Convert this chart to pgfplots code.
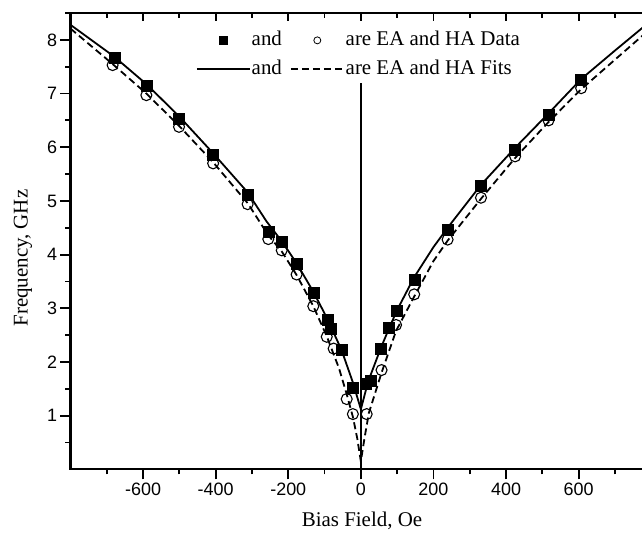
\documentclass[border=0pt]{standalone}
\usepackage{fontspec}
\setmainfont{Liberation Serif}
\setsansfont{Liberation Sans}
\usepackage{pgfplots}
\pgfplotsset{compat=1.18}
\pgfplotsset{
  mymarklegend/.style={legend image code/.code={\path[draw=none] (0bp,0bp) -- (53bp,0bp); \draw[##1] plot coordinates {(26.5bp,0bp)};}},
  mylinelegend/.style={legend image code/.code={\draw[##1] (0bp,0bp) -- (53bp,0bp);}},
}
\pgfplotstableread{
x y
-678 7.66
-591 7.14
-501 6.53
-407 5.86
-312 5.11
-255 4.42
-218 4.24
-177 3.83
-131 3.29
-92 2.79
-82 2.62
-53 2.23
-22 1.53
14 1.59
27 1.65
55 2.25
76 2.63
100 2.95
147 3.54
239 4.47
331 5.28
425 5.96
517 6.60
607 7.26
}\eadata
\pgfplotstableread{
x y
-684 7.53
-591 6.97
-501 6.38
-407 5.70
-312 4.94
-255 4.29
-218 4.08
-177 3.63
-131 3.04
-94 2.47
-75 2.25
-39 1.31
-22 1.03
16 1.03
57 1.85
97 2.69
147 3.26
239 4.28
331 5.06
425 5.83
517 6.50
607 7.10
}\hadata
\pgfplotstableread{
x y
-800 8.28
-680 7.69
-590 7.17
-500 6.57
-410 5.91
-312 5.16
-260 4.62
-218 4.25
-177 3.84
-131 3.31
-92 2.80
-53 2.22
-22 1.62
0 1.12
14 1.48
27 1.76
55 2.26
76 2.60
100 2.97
147 3.58
200 4.14
239 4.50
331 5.30
425 5.99
517 6.63
607 7.27
700 7.80
800 8.36
}\eafit
\pgfplotstableread{
x y
-800 8.21
-684 7.55
-591 7.00
-501 6.40
-407 5.72
-312 4.96
-255 4.36
-218 4.06
-177 3.62
-131 3.04
-94 2.48
-60 1.88
-39 1.40
-22 0.98
-10 0.58
0 0.15
10 0.58
22 1.05
57 1.80
97 2.58
147 3.22
200 3.88
239 4.26
331 5.04
425 5.80
517 6.47
607 7.08
700 7.63
800 8.22
}\hafit
\begin{document}
\begin{tikzpicture}[trim left=-70.5bp, trim right=571.5bp]
\path (0bp,-59.6bp) -- (0bp,469.4bp);
\begin{axis}[
  scale only axis, width=580.7bp, height=456.4bp,
  xmin=-800, xmax=800, ymin=0, ymax=8.5,
  xtick={-600,-400,...,600}, minor xtick={-700,-500,...,700},
  ytick={1,2,...,8}, minor ytick={0.5,1.5,...,8},
  tick align=outside, xtick pos=left, ytick pos=left,
  major tick length=10bp, minor tick length=5bp,
  every tick/.style={black, line width=1.8bp},
  axis line style={line width=2bp},
  /pgf/number format/assume math mode=true,
  tick label style={font=\sffamily\fontsize{18}{18}\selectfont},
  xlabel={Bias Field, Oe}, ylabel={Frequency, GHz},
  label style={font=\fontsize{21}{25}\selectfont},
  xlabel style={at={(axis description cs:0.502,-0.126)}, anchor=base},
  ylabel style={at={(axis description cs:-0.0818,0.463)}, anchor=center},
  legend columns=2, legend cell align=left,
  legend style={draw=none, fill=none, inner sep=0pt,
    at={(axis cs:-455,8.19)}, anchor=north west,
    font=\fontsize{21}{25}\selectfont,
    nodes={inner xsep=1bp, inner ysep=1bp, text height=15bp, text depth=4bp},
    row sep=8bp,
    /tikz/every even column/.append style={column sep=7bp}},
]
\addlegendimage{black, mark=square*, mark size=4bp, only marks, mymarklegend}
\addlegendentry{and}
\addlegendimage{black, mark=o, mark size=3.5bp, line width=0.8bp, only marks, mymarklegend}
\addlegendentry{are EA and HA Data}
\addlegendimage{black, line width=1.8bp, mylinelegend}
\addlegendentry{and}
\addlegendimage{black, line width=1.8bp, dash pattern=on 7bp off 4bp, mylinelegend}
\addlegendentry{are EA and HA Fits}
\addplot[black, line width=1.8bp, forget plot] table {\eafit};
\addplot[black, line width=1.8bp, dash pattern=on 7bp off 4bp, forget plot] table {\hafit};
\addplot[black, line width=1.8bp, forget plot] coordinates {(0,0) (0,7.2)};
\addplot[black, only marks, mark=o, mark size=5.5bp, line width=1.1bp, forget plot] table {\hadata};
\addplot[black, only marks, mark=square*, mark size=5.5bp, forget plot] table {\eadata};
\end{axis}
\begin{axis}[
  scale only axis, width=580.7bp, height=456.4bp,
  xmin=-800, xmax=800, ymin=0, ymax=8.5,
  xtick={-600,-400,...,600}, minor xtick={-700,-500,...,700},
  ytick={1,2,...,8}, minor ytick={0.5,1.5,...,8},
  tick align=inside, xtick pos=right, ytick pos=right,
  major tick length=8bp, minor tick length=5bp,
  every tick/.style={black, line width=1.8bp},
  axis line style={line width=2bp},
  xticklabels={}, yticklabels={},
]
\end{axis}
\end{tikzpicture}
\end{document}
